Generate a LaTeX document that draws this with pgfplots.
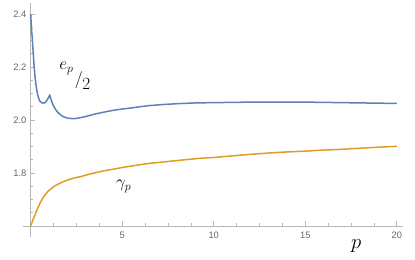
\documentclass[border=0pt]{standalone}
\usepackage{pgfplots}
\pgfplotsset{compat=1.18}
\usepackage{fontspec}
\setsansfont{Liberation Sans}
\definecolor{mblue}{rgb}{0.368417,0.506779,0.709798}
\definecolor{morange}{rgb}{0.880722,0.611041,0.142051}
\definecolor{axgray}{gray}{0.72}
\definecolor{lblgray}{gray}{0.40}
\begin{document}
\begin{tikzpicture}
\useasboundingbox (-23bp,-23bp) rectangle (392bp,237bp);
\begin{axis}[
  scale only axis,
  width=380bp, height=234bp,
  xmin=-0.42, xmax=20.34,
  ymin=1.558, ymax=2.441,
  axis x line*=bottom, axis y line*=left,
  axis x line shift=-11.13bp,
  axis y line shift=-7.69bp,
  axis line style={axgray, line width=0.6bp},
  tick align=inside,
  major tick length=4.5bp, minor tick length=2.7bp,
  tick style={axgray, line width=0.6bp},
  xtick={5,10,15,20}, xticklabels={5,10,15,20},
  ytick={1.8,2.0,2.2,2.4}, yticklabels={1.8,2.0,2.2,2.4},
  minor xtick={1.25,2.5,3.75,6.25,7.5,8.75,11.25,12.5,13.75,16.25,17.5,18.75},
  minor ytick={1.65,1.7,1.75,1.85,1.9,1.95,2.05,2.1,2.15,2.25,2.3,2.35},
  ticklabel style={font=\sffamily\fontsize{9.4}{10}\selectfont, text=lblgray},
  xticklabel style={yshift=-2.4bp},
  yticklabel style={xshift=-0.8bp},
  clip=false,
]
\addplot[mblue, line width=1.5bp, line join=round] coordinates {
(0.00,2.400) (0.03,2.360) (0.06,2.330) (0.09,2.305) (0.13,2.260) (0.18,2.210)
(0.23,2.167) (0.29,2.132) (0.35,2.105) (0.42,2.084) (0.50,2.071) (0.60,2.065)
(0.70,2.063) (0.80,2.066) (0.90,2.075) (0.97,2.084) (1.04,2.094) (1.10,2.079)
(1.15,2.069) (1.25,2.052) (1.37,2.038) (1.50,2.027) (1.69,2.016) (1.85,2.010)
(2.05,2.006) (2.25,2.005) (2.42,2.005) (2.70,2.008) (2.97,2.012) (3.25,2.017)
(3.51,2.022) (4.06,2.030) (4.5,2.036) (5.0,2.041) (5.5,2.045) (6.0,2.050)
(6.5,2.054) (7.25,2.058) (8.0,2.061) (9.0,2.064) (10,2.065) (11,2.066)
(12,2.067) (13,2.067) (14,2.067) (15,2.067) (16,2.066) (17,2.065)
(18,2.064) (19,2.063) (20,2.062)
};
\addplot[morange, line width=1.5bp, line join=round] coordinates {
(0,1.600) (0.12,1.622) (0.24,1.642) (0.37,1.664) (0.51,1.686) (0.65,1.703)
(0.78,1.717) (0.95,1.731) (1.15,1.742) (1.3,1.750) (1.51,1.758) (1.75,1.766)
(2.05,1.774) (2.4,1.781) (2.79,1.787) (3.2,1.795) (3.69,1.803) (4.1,1.809)
(4.6,1.815) (5.15,1.822) (6.0,1.831) (6.5,1.836) (7.5,1.843) (8.5,1.850)
(9.25,1.855) (10,1.858) (11,1.864) (12,1.870) (13,1.875) (14,1.879)
(15,1.882) (15.7,1.885) (17,1.889) (18,1.893) (19,1.897) (20,1.900)
};
\node[anchor=base west, inner sep=0pt] at (axis cs:1.55,2.113)
  {\fontsize{18}{18}\selectfont\raisebox{20bp}{$e_p$}\kern1.5bp\raisebox{5.5bp}{\fontsize{16}{16}\selectfont$/$}\kern-0.5bp$2$};
\node[anchor=base west, inner sep=0pt] at (axis cs:4.66,1.743)
  {\fontsize{18}{18}\selectfont$\gamma_p$};
\node[anchor=base west, inner sep=0pt] at (axis cs:17.50,1.513)
  {\fontsize{20}{20}\selectfont$p$};
\end{axis}
\end{tikzpicture}
\end{document}
